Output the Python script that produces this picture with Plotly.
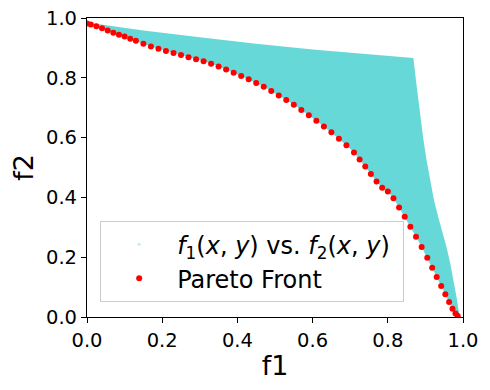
import plotly.graph_objects as go

# Pareto front
front_f1 = [0.000, 0.010, 0.025, 0.040, 0.055, 0.070, 0.085, 0.100, 0.115, 0.130,
            0.150, 0.170, 0.190, 0.210, 0.230, 0.250, 0.270, 0.290, 0.310, 0.330,
            0.350, 0.370, 0.390, 0.410, 0.430, 0.450, 0.470, 0.490, 0.510, 0.530,
            0.550, 0.570, 0.590, 0.610, 0.630, 0.650, 0.670, 0.690, 0.710, 0.725,
            0.740, 0.755, 0.770, 0.785, 0.800, 0.815, 0.830, 0.845, 0.860, 0.875,
            0.890, 0.905, 0.918, 0.930, 0.942, 0.953, 0.963, 0.972, 0.980, 0.986]
front_f2 = [0.982, 0.978, 0.972, 0.966, 0.958, 0.951, 0.944, 0.938, 0.931, 0.924,
            0.914, 0.905, 0.897, 0.890, 0.883, 0.876, 0.869, 0.862, 0.855, 0.847,
            0.838, 0.828, 0.817, 0.806, 0.795, 0.783, 0.770, 0.756, 0.741, 0.726,
            0.710, 0.692, 0.675, 0.656, 0.637, 0.618, 0.596, 0.574, 0.550, 0.527,
            0.503, 0.478, 0.453, 0.432, 0.420, 0.397, 0.366, 0.335, 0.302, 0.268,
            0.234, 0.198, 0.165, 0.134, 0.104, 0.076, 0.050, 0.028, 0.012, 0.003]

# outline of the sampled (f1, f2) cloud: upper edge then right edge
edge_f1 = [0.000, 0.150, 0.300, 0.450, 0.600, 0.750, 0.868,
           0.877, 0.886, 0.894, 0.903, 0.913, 0.923, 0.935, 0.946, 0.956,
           0.966, 0.975, 0.983, 0.990]
edge_f2 = [0.985, 0.958, 0.936, 0.914, 0.895, 0.879, 0.866,
           0.770, 0.670, 0.600, 0.525, 0.455, 0.390, 0.330, 0.280, 0.235,
           0.180, 0.123, 0.065, 0.008]

cloud_x = edge_f1 + front_f1[::-1]
cloud_y = edge_f2 + front_f2[::-1]

font = "DejaVu Sans"

fig = go.Figure()

fig.add_trace(go.Scatter(
    x=cloud_x, y=cloud_y,
    mode="lines",
    fill="toself",
    fillcolor="rgba(0,190,190,0.6)",
    line=dict(width=0),
    hoverinfo="skip",
    showlegend=False,
))

# legend entry for the cloud
fig.add_trace(go.Scatter(
    x=[None], y=[None],
    mode="markers",
    marker=dict(color="rgba(0,190,190,0.25)", size=3),
    name="<i>f</i><sub>1</sub>(<i>x</i>, <i>y</i>) vs. <i>f</i><sub>2</sub>(<i>x</i>, <i>y</i>) ",
    legendgroup="a",
))

fig.add_trace(go.Scatter(
    x=front_f1, y=front_f2,
    mode="markers",
    marker=dict(color="red", size=6, line=dict(width=0)),
    name="Pareto Front",
    legendgroup="b",
))

# page body adds an 8px offset, margins compensate for it
fig.update_layout(
    width=490,
    height=390,
    margin=dict(l=79, r=35, t=10, b=81),
    paper_bgcolor="white",
    plot_bgcolor="white",
    font=dict(family=font, color="black"),
    legend=dict(
        x=0.035, y=0.05,
        xanchor="left", yanchor="bottom",
        bgcolor="rgba(255,255,255,0.8)",
        bordercolor="#cccccc",
        borderwidth=1,
        font=dict(size=24, family=font),
        itemwidth=66,
        tracegroupgap=0,
    ),
)

fig.update_xaxes(
    range=[0, 1],
    tickvals=[0, 0.2, 0.4, 0.6, 0.8, 1.0],
    tickformat=".1f",
    ticks="outside", ticklen=5, tickwidth=1.2, tickcolor="black",
    tickfont=dict(size=19.5), ticklabeloverflow="allow",
    showline=True, linecolor="black", linewidth=1.2, mirror=True,
    showgrid=False, zeroline=False, automargin=False,
    title=dict(text="f1", font=dict(size=27), standoff=5),
)
fig.update_yaxes(
    range=[0, 1],
    tickvals=[0, 0.2, 0.4, 0.6, 0.8, 1.0],
    tickformat=".1f",
    ticks="outside", ticklen=5, tickwidth=1.2, tickcolor="black",
    tickfont=dict(size=19.5), ticklabeloverflow="allow",
    showline=True, linecolor="black", linewidth=1.2, mirror=True,
    showgrid=False, zeroline=False, automargin=False,
    title=dict(text="f2", font=dict(size=27), standoff=15),
)

fig.write_html("out.html")
